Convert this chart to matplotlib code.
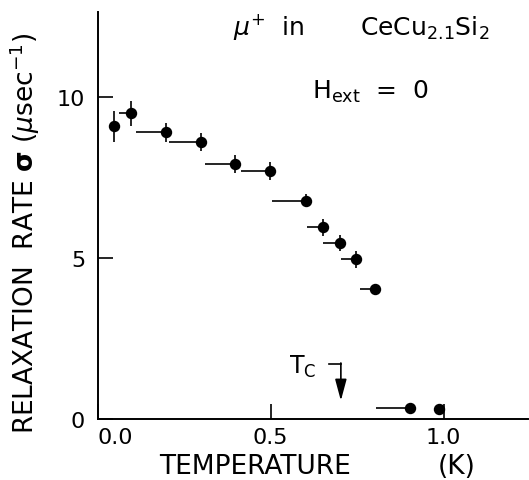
import matplotlib
matplotlib.use("Agg")
import matplotlib.pyplot as plt
import numpy

# muon relaxation rate in CeCu2.1Si2 vs temperature
temp = [0.048, 0.097, 0.198, 0.299, 0.397, 0.499, 0.601, 0.651, 0.701, 0.748, 0.803, 0.903, 0.986]
t_left = [0.048, 0.062, 0.110, 0.207, 0.310, 0.413, 0.503, 0.606, 0.652, 0.702, 0.758, 0.806, 0.986]
rate = [9.10, 9.49, 8.90, 8.61, 7.92, 7.69, 6.78, 5.95, 5.46, 4.96, 4.05, 0.35, 0.31]
rate_err = [0.48, 0.39, 0.29, 0.28, 0.28, 0.28, 0.20, 0.25, 0.25, 0.26, 0.0, 0.0, 0.0]

xticks = [0.0, 0.5, 1.0]
xticklabels = ["0.0", "0.5", "1.0"]
yticks = [0, 5, 10]
yticklabels = ["0", "5", "10"]
tc = 0.703

plt.rcParams['font.family'] = ['DejaVu Sans']
plt.rcParams['mathtext.fontset'] = 'dejavusans'

fig = plt.figure(figsize=(5.29, 4.81), dpi=100)
ax = fig.add_axes([0.1847, 0.1268, 0.8134, 0.846])

temp = numpy.asarray(temp)
xerr = [temp - numpy.asarray(t_left), numpy.zeros(len(temp))]
ax.errorbar(temp, rate, yerr=rate_err, xerr=xerr, fmt='o', color='black',
            markersize=7.2, elinewidth=1.2, capsize=0)

ax.set_xlim(0, 1.244)
ax.set_ylim(0, 12.64)
for side in ('top', 'right'):
    ax.spines[side].set_visible(False)
for side in ('left', 'bottom'):
    ax.spines[side].set_linewidth(1.4)

ax.set_xticks(xticks)
ax.set_xticklabels(xticklabels, fontsize=16)
ax.get_xticklabels()[0].set_horizontalalignment('left')
ax.set_yticks(yticks)
ax.set_yticklabels(yticklabels, fontsize=16)
ax.tick_params(axis='both', direction='in', length=11, width=1.2)
ax.tick_params(axis='x', pad=6)
ax.tick_params(axis='y', pad=9)

fig.text(0.047, 0.515, r"RELAXATION  RATE $\mathbf{\sigma}$ ($\mu$sec$^{-1}$)",
         rotation=90, ha='center', va='center', fontsize=19)
fig.text(0.30, 0.03, "TEMPERATURE", ha='left', va='center', fontsize=19)
fig.text(0.863, 0.03, "(K)", ha='center', va='center', fontsize=19)

ax.text(0.39, 11.95, r"$\mu^{+}$  in       CeCu$_{2.1}$Si$_{2}$", fontsize=18,
        ha='left', va='baseline')
ax.text(0.62, 9.98, r"H$_{\mathrm{ext}}$  =  0", fontsize=18,
        ha='left', va='baseline')

# Tc marker
ax.text(0.554, 1.43, r"T$_{\mathrm{C}}$", fontsize=17, ha='left', va='baseline')
ax.plot([tc - 0.035, tc], [1.71, 1.71], color='black', linewidth=1.2)
ax.annotate("", xy=(tc, 0.57), xytext=(tc, 1.74),
            arrowprops=dict(arrowstyle='-|>,head_length=1.3,head_width=0.35',
                            color='black', linewidth=1.2, shrinkA=0, shrinkB=0))

fig.savefig("out.png", dpi=100)
